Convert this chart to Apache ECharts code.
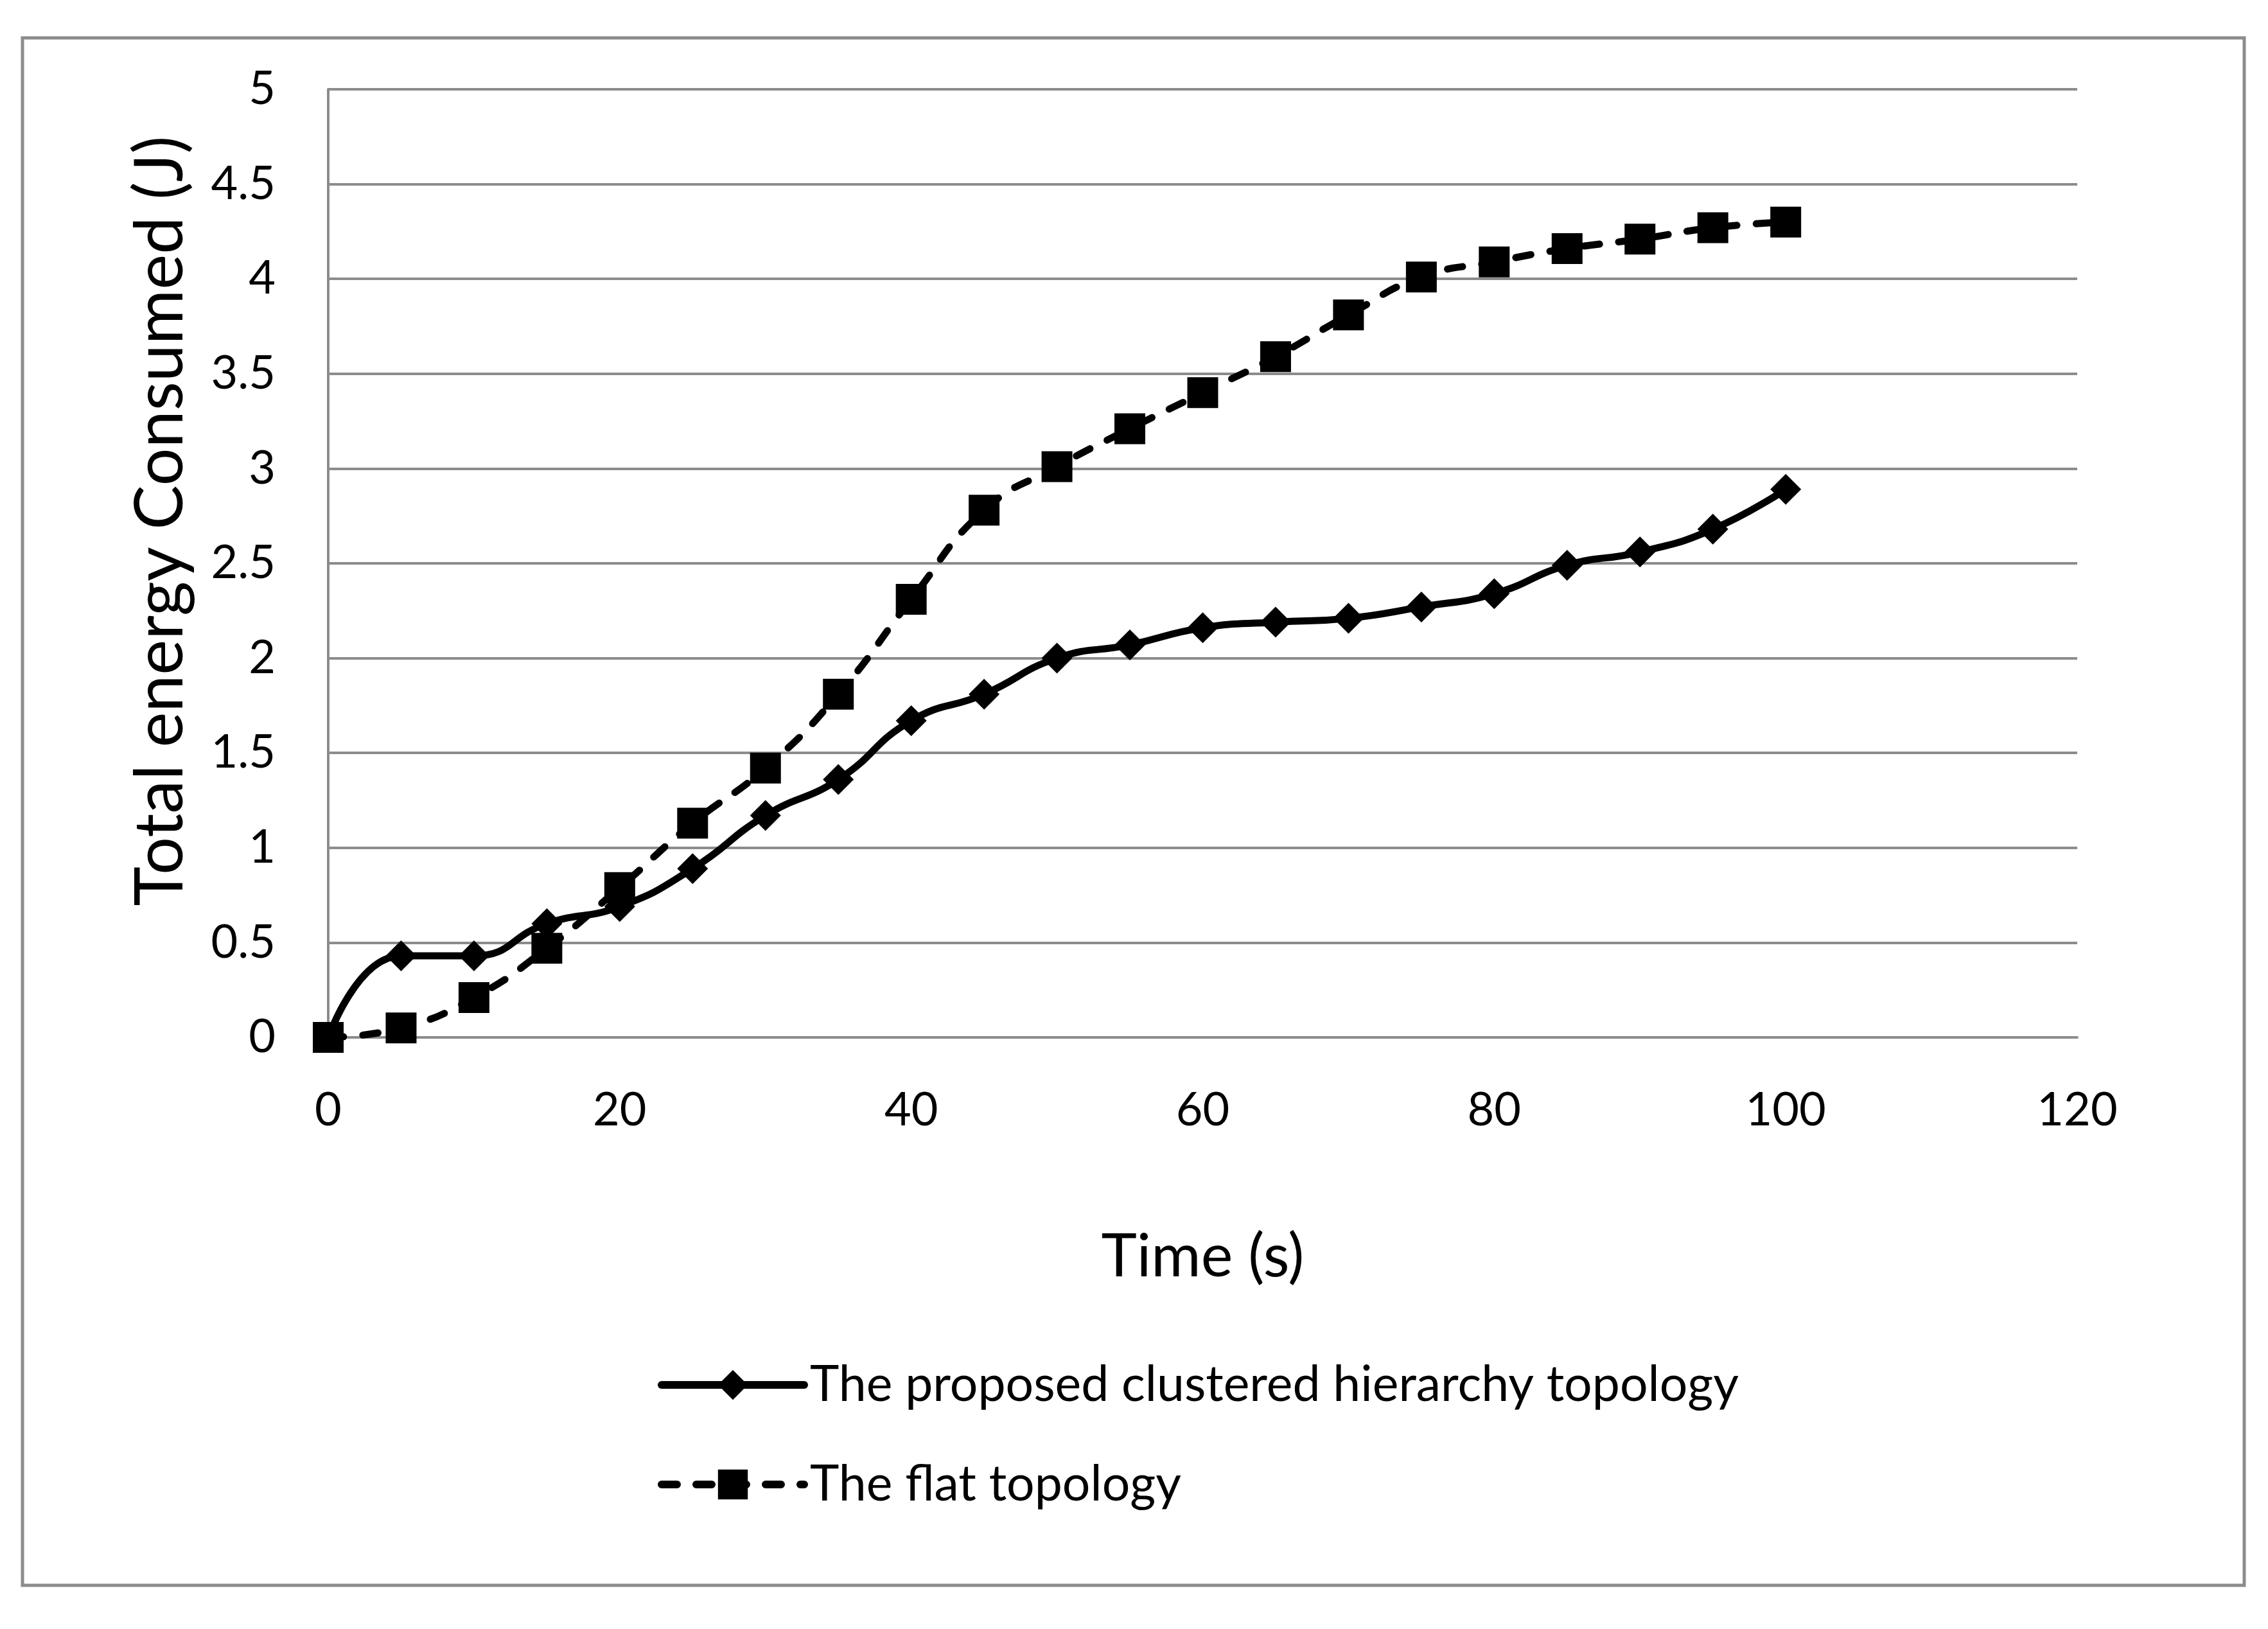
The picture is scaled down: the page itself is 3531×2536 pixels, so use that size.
<!DOCTYPE html>
<html>
<head>
<meta charset="utf-8">
<script src="https://cdn.jsdelivr.net/npm/echarts@6/dist/echarts.min.js"></script>
<style>
  html, body { margin: 0; padding: 0; background: #ffffff; }
  #chart { width: 3531px; height: 2536px; }
</style>
</head>
<body>
<div id="chart"></div>
<script>
// time axis (s)
var timeSteps = [0, 5, 10, 15, 20, 25, 30, 35, 40, 45, 50, 55, 60, 65, 70, 75, 80, 85, 90, 95, 100];
// total energy consumed (J)
var clusteredEnergy = [0, 0.43, 0.43, 0.60, 0.69, 0.89, 1.17, 1.36, 1.67, 1.81, 2.00, 2.07, 2.16, 2.19, 2.21, 2.27, 2.34, 2.49, 2.56, 2.68, 2.89];
var flatEnergy = [0, 0.05, 0.21, 0.47, 0.79, 1.13, 1.42, 1.81, 2.31, 2.78, 3.01, 3.21, 3.40, 3.59, 3.81, 4.01, 4.09, 4.16, 4.21, 4.27, 4.30];
var seriesNames = ['The proposed clustered hierarchy topology', 'The flat topology'];

var FONT = 'Lato';
var GRID_GRAY = '#8c8c8c';

function pairs(xs, ys) {
	var out = [];
	for (var i = 0; i < xs.length; i++) {
		out.push([xs[i], ys[i]]);
	}
	return out;
}

var chart = echarts.init(document.getElementById('chart'), null, { renderer: 'canvas' });

chart.setOption({
	backgroundColor: '#ffffff',
	animation: false,
	textStyle: { fontFamily: FONT, color: '#000' },
	// outer chart frame
	graphic: [{
		type: 'rect',
		shape: { x: 35, y: 59, width: 3459, height: 2409 },
		style: { fill: 'none', stroke: GRID_GRAY, lineWidth: 5 },
		silent: true
	}],
	grid: { left: 511, right: 297, top: 139, bottom: 921 },
	legend: {
		orient: 'vertical',
		left: 1019,
		top: 2111,
		itemWidth: 222,
		itemHeight: 58,
		itemGap: 75,
		lineStyle: { width: 12 },
		textStyle: { fontFamily: FONT, fontSize: 77, color: '#000', lineHeight: 80, padding: [0, 0, 0, 4] },
		data: seriesNames
	},
	xAxis: {
		type: 'value',
		min: 0,
		max: 120,
		interval: 20,
		name: 'Time (s)',
		nameLocation: 'middle',
		nameGap: 295,
		nameTextStyle: { fontFamily: FONT, fontSize: 94, color: '#000' },
		axisLine: { show: true, lineStyle: { color: GRID_GRAY, width: 4 } },
		axisTick: { show: false },
		splitLine: { show: false },
		axisLabel: { margin: 78, fontSize: 72, color: '#000', fontFamily: FONT }
	},
	yAxis: {
		type: 'value',
		min: 0,
		max: 5,
		interval: 0.5,
		name: 'Total energy Consumed (J)',
		nameLocation: 'middle',
		nameGap: 209,
		nameTextStyle: { fontFamily: FONT, fontSize: 104, color: '#000', padding: [0, 0, 0, 132] },
		axisLine: { show: true, lineStyle: { color: GRID_GRAY, width: 4 } },
		axisTick: { show: false },
		splitLine: { show: true, lineStyle: { color: GRID_GRAY, width: 4 } },
		axisLabel: { margin: 82, fontSize: 72, color: '#000', fontFamily: FONT }
	},
	series: [{
		name: seriesNames[0],
		type: 'line',
		smooth: 0.5,
		data: pairs(timeSteps, clusteredEnergy),
		symbol: 'diamond',
		symbolSize: 48,
		lineStyle: { color: '#000', width: 11, cap: 'round', join: 'round' },
		itemStyle: { color: '#000' }
	}, {
		name: seriesNames[1],
		type: 'line',
		smooth: 0.5,
		data: pairs(timeSteps, flatEnergy),
		symbol: 'rect',
		symbolSize: 48,
		lineStyle: { color: '#000', width: 11, type: [24, 30], cap: 'round', join: 'round' },
		itemStyle: { color: '#000' }
	}]
});
</script>
</body>
</html>
